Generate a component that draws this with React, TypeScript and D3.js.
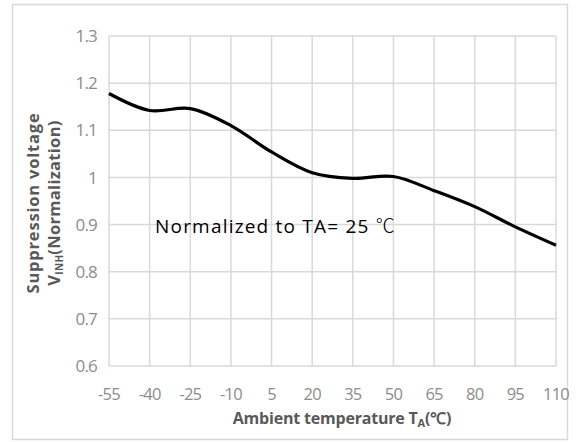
import React from "react";
import * as d3 from "d3";

const temps = [-55, -40, -25, -10, 5, 20, 35, 50, 65, 80, 95, 110];
const voltage = [1.178, 1.142, 1.146, 1.11, 1.054, 1.01, 0.998, 1.002, 0.972, 0.938, 0.895, 0.856];
const yTicks = [0.6, 0.7, 0.8, 0.9, 1, 1.1, 1.2, 1.3];
const yTickLabels = ["0.6", "0.7", "0.8", "0.9", "1", "1.1", "1.2", "1.3"];

const W = 587;
const H = 442;

export default function App() {
  const x = d3.scaleLinear().domain([-55, 110]).range([109, 556]);
  const y = d3.scaleLinear().domain([0.6, 1.3]).range([366, 36]);
  const pts: [number, number][] = temps.map((t, i) => [t, voltage[i]]);
  const line = d3
    .line<[number, number]>()
    .x((d) => x(d[0]))
    .y((d) => y(d[1]))
    .curve(d3.curveCatmullRom.alpha(0.5));
  const tickFont = "'Open Sans', sans-serif";
  return (
    <svg
      width={W}
      height={H}
      style={{ position: "absolute", left: 0, top: 0, background: "#fff" }}
    >
      <rect x={12.5} y={4.5} width={555} height={435} fill="#fff" stroke="#d9d9d9" strokeWidth={1.5} />
      {yTicks.map((v) => (
        <line key={"gy" + v} x1={109} x2={556} y1={y(v)} y2={y(v)} stroke="#d9d9d9" strokeWidth={1.5} />
      ))}
      {temps.map((t) => (
        <line key={"gx" + t} x1={x(t)} x2={x(t)} y1={36} y2={366} stroke="#d9d9d9" strokeWidth={1.5} />
      ))}
      {yTicks.map((v, i) => (
        <text
          key={"ty" + v}
          x={97}
          y={y(v)}
          dy="0.36em"
          textAnchor="end"
          fontFamily={tickFont}
          fontSize={17}
          fill="#8c8c8c"
          letterSpacing={-0.8}
        >
          {yTickLabels[i]}
        </text>
      ))}
      {temps.map((t) => (
        <text
          key={"tx" + t}
          x={x(t)}
          y={400}
          textAnchor="middle"
          fontFamily={tickFont}
          fontSize={16.5}
          fill="#8c8c8c"
          letterSpacing={-0.8}
        >
          {String(t)}
        </text>
      ))}
      <path d={line(pts) || ""} fill="none" stroke="#000" strokeWidth={3.2} strokeLinejoin="round" />
      <text x={155} y={233} fontFamily={tickFont} fontSize={19} fill="#000" letterSpacing={1.2}>
        Normalized to TA= 25 <tspan fontFamily="'Noto Sans CJK SC', sans-serif" fontWeight={300}>℃</tspan>
      </text>
      <text
        x={342}
        y={424}
        textAnchor="middle"
        fontFamily={tickFont}
        fontWeight="bold"
        fontSize={16}
        fill="#595959"
        letterSpacing={-0.2}
      >
        Ambient temperature T
        <tspan fontSize={11} dy={3}>A</tspan>
        <tspan dy={-3}>(℃)</tspan>
      </text>
      <g transform="translate(39,203) rotate(-90)">
        <text x={0} y={0} textAnchor="middle" fontFamily={tickFont} fontWeight="bold" fontSize={16.5} fill="#595959" letterSpacing={0.8}>
          Suppression voltage
        </text>
        <text x={0} y={21} textAnchor="middle" fontFamily={tickFont} fontWeight="bold" fontSize={16.5} fill="#595959" letterSpacing={0.3}>
          V<tspan fontSize={10} dy={3}>INH</tspan>
          <tspan dy={-3}>(Normalization)</tspan>
        </text>
      </g>
    </svg>
  );
}
